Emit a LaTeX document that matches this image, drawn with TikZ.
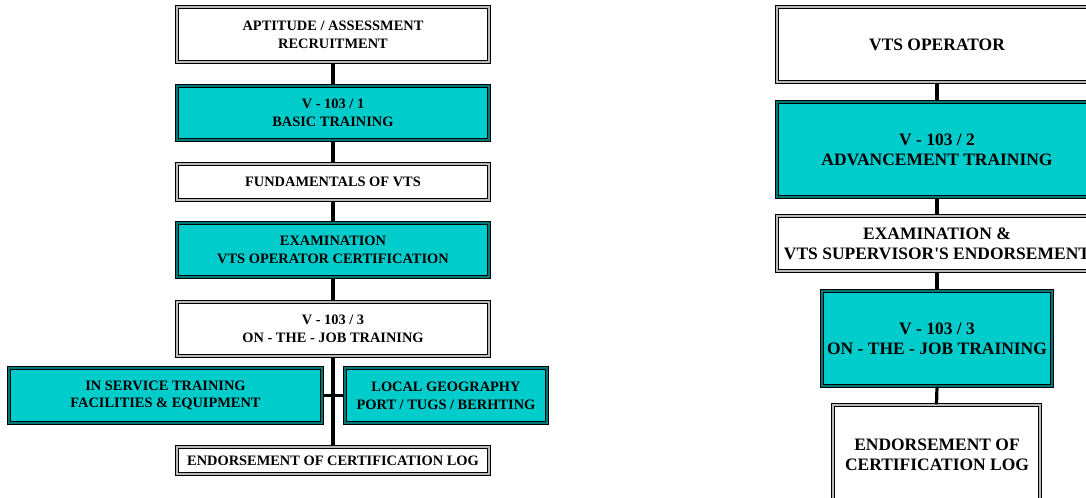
\documentclass[tikz,border=0pt]{standalone}
\usepackage{fontspec}
\setmainfont{Liberation Serif}
\usetikzlibrary{shadows}
\definecolor{boxcyan}{RGB}{0,204,204}
\definecolor{boxteal}{RGB}{0,120,120}
\tikzset{
  frame/.style={rectangle, draw=black, line width=0.9pt, inner sep=0pt,
    double distance=1.1pt, align=center, font=\bfseries,
    drop shadow={shadow xshift=-0.5pt, shadow yshift=-1.3pt, fill=black, opacity=1}},
  wbox/.style={frame, fill=white, double=gray!55},
  cbox/.style={frame, fill=boxcyan, double=boxteal},
  lfont/.style={font=\fontsize{10.8}{13.2}\selectfont\bfseries},
  rfont/.style={font=\fontsize{13.1}{15.2}\selectfont\bfseries},
  conn/.style={line width=2.4pt, draw=black},
}
\newcommand\bx[7]{%
  \node[#6, minimum width={(#4-#2)*0.75pt}, minimum height={(#5-#3)*0.75pt}]
    (#1) at ({(#2+#4)/2},{(#3+#5)/2}) {#7};}
\begin{document}
\begin{tikzpicture}[x=0.75pt,y=-0.75pt]
\useasboundingbox (0,0) rectangle (1086,497);
\clip (0,0) rectangle (1086,497);
% left column
\bx{a1}{177}{7}{489}{62}{wbox,lfont}{APTITUDE / ASSESSMENT\\RECRUITMENT}
\bx{a2}{177}{86}{489}{140}{cbox,lfont}{V - 103 / 1\\BASIC TRAINING}
\bx{a3}{177}{164}{489}{200}{wbox,lfont}{FUNDAMENTALS OF VTS}
\bx{a4}{177}{223}{489}{277}{cbox,lfont}{EXAMINATION\\VTS OPERATOR CERTIFICATION}
\bx{a5}{177}{302}{489}{356}{wbox,lfont}{V - 103 / 3\\ON - THE - JOB TRAINING}
\bx{as}{9}{368}{322}{423}{cbox,lfont}{IN SERVICE TRAINING\\FACILITIES \& EQUIPMENT}
\bx{al}{345}{368}{547}{423}{cbox,lfont}{LOCAL GEOGRAPHY\\PORT / TUGS / BERHTING}
\bx{a6}{177}{447}{489}{474}{wbox,lfont}{ENDORSEMENT OF CERTIFICATION LOG}
\draw[conn] (a1.south) -- (a2.north);
\draw[conn] (a2.south) -- (a3.north);
\draw[conn] (a3.south) -- (a4.north);
\draw[conn] (a4.south) -- (a5.north);
\draw[conn] (a5.south) -- (a6.north);
\draw[conn] (as.east) -- (al.west);
% right column
\bx{b1}{777}{7}{1097}{82}{wbox,rfont}{VTS OPERATOR}
\bx{b2}{777}{102}{1097}{197}{cbox,rfont}{V - 103 / 2\\ADVANCEMENT TRAINING}
\bx{b3}{777}{216}{1097}{271}{wbox,rfont}{}
\node[rfont, align=center] (b3t) at (b3.center) {EXAMINATION \&\\VTS SUPERVISOR\textquotesingle S ENDORSEMENT};
\bx{b4}{822}{291}{1052}{386}{cbox,rfont}{V - 103 / 3\\ON - THE - JOB TRAINING}
\bx{b5}{833}{405}{1040}{505}{wbox,rfont}{}
\node[rfont, align=center] (b5t) at (937,455) {ENDORSEMENT OF\\CERTIFICATION LOG};
\draw[conn] (b1.south) -- (b2.north);
\draw[conn] (b2.south) -- (b3.north);
\draw[conn] (b3.south) -- (b4.north);
\draw[conn] (b4.south) -- (b5.north);
\end{tikzpicture}
\end{document}
